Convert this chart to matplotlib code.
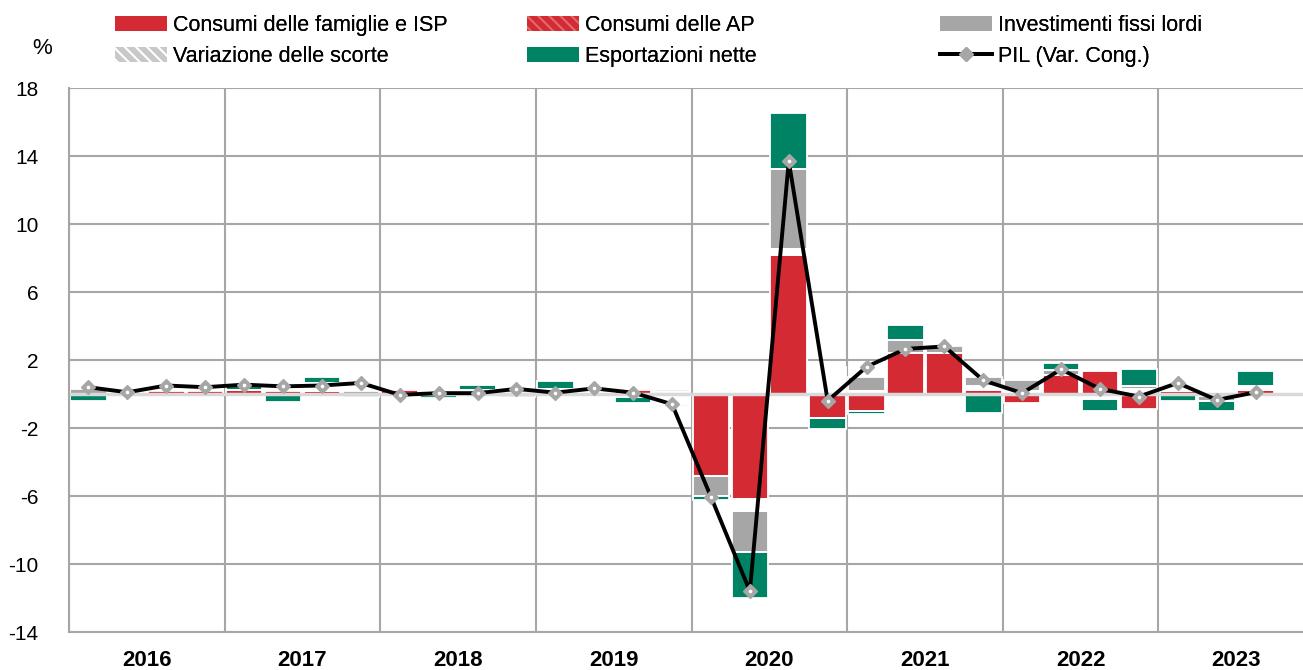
import numpy as np
import matplotlib
matplotlib.use('Agg')
from matplotlib import pyplot as plt
from matplotlib.patches import Patch
from matplotlib.lines import Line2D

plt.rcParams['font.family'] = ['Liberation Sans Narrow', 'Liberation Sans', 'DejaVu Sans']
plt.rcParams['hatch.linewidth'] = 1.5
plt.rcParams['axes.unicode_minus'] = False

nan = np.nan
years = ['2016', '2017', '2018', '2019', '2020', '2021', '2022', '2023']

# contributi alla crescita congiunturale del PIL (punti percentuali), 2016Q1-2023Q4
consumi_famiglie = [0, 0, 0.15, 0.15,   0.25, 0.15, 0.15, 0,   0.25, 0, 0, 0,
                    0, 0, 0.25, 0.1,    -4.8, -6.2, 8.2, -1.4,  -1.0, 2.4, 2.4, 0.25,
                    -0.5, 1.1, 1.35, -0.9,  0.2, 0, 0.25, nan]
consumi_ap = [0] * 31 + [nan]
scorte = [0, 0, 0, 0,   0, 0, 0.5, 0,   0, 0, 0.25, 0,
          0.3, 0.2, 0, -0.6,   0, -0.7, 0.35, 1.6,   0.2, 0, 0, 0.25,
          0.2, 0, -0.3, 0.3,   0.25, -0.1, 0.2, nan]
investimenti = [0.3, 0, 0, 0,   0, 0, 0, 0.2,   0, 0.2, 0, 0.1,
                0, 0.1, -0.2, -0.1,   -1.2, -2.4, 4.7, 0,   0.8, 0.8, 0.45, 0.5,
                0.65, 0.3, 0, 0.2,   0.15, -0.3, 0, nan]
esportazioni = [-0.4, 0, 0, 0,   0.25, -0.45, 0.35, -0.15,   0, -0.25, 0.3, -0.15,
                0.45, 0, -0.3, 0.15,   -0.25, -2.7, 3.3, -0.65,   -0.2, 0.85, 0, -1.1,
                0, 0.4, -0.7, 0.95,   -0.4, -0.6, 0.9, nan]
pil = [0.4, 0.1, 0.5, 0.4,   0.55, 0.45, 0.5, 0.65,   -0.05, 0.05, 0.05, 0.3,
       0.08, 0.33, 0.08, -0.6,   -6.05, -11.6, 13.7, -0.4,   1.6, 2.65, 2.8, 0.8,
       0.05, 1.45, 0.3, -0.15,   0.65, -0.35, 0.1, nan]

RED = '#D42A33'
GREEN = '#008264'
GRAY = '#A6A6A6'

# name, values, bar face, bar hatch, hatch colour, legend face, legend hatch, legend hatch colour
series = [
    ('Consumi delle famiglie e ISP', consumi_famiglie, RED, None, RED, RED, None, RED),
    ('Consumi delle AP', consumi_ap, RED, '\\\\\\', '#B8232B', RED, '\\\\\\', '#E06A70'),
    ('Variazione delle scorte', scorte, 'white', None, 'white', '#C8C8C8', '\\\\\\', 'white'),
    ('Investimenti fissi lordi', investimenti, GRAY, None, GRAY, GRAY, None, GRAY),
    ('Esportazioni nette', esportazioni, GREEN, None, GREEN, GREEN, None, GREEN),
]

fig = plt.figure(figsize=(13.03, 6.70), dpi=100)
ax = fig.add_axes([69 / 1303, 38 / 670, 1245 / 1303, 544 / 670])

x = np.arange(len(pil))
pos_base = np.zeros(len(x))
neg_base = np.zeros(len(x))
for name, vals, face, hatch, hcol, lface, lhatch, lhcol in series:
    v = np.nan_to_num(np.array(vals, dtype=float))
    bottom = np.where(v >= 0, pos_base, neg_base)
    m = v != 0
    if m.any():
        ax.bar(x[m], v[m], bottom=bottom[m], width=0.94, color=face, hatch=hatch,
               edgecolor=hcol, linewidth=0, zorder=2)
        ax.bar(x[m], v[m], bottom=bottom[m], width=0.94, fill=False,
               edgecolor='white', linewidth=1.3, zorder=2.1)
    pos_base += np.where(v > 0, v, 0)
    neg_base += np.where(v < 0, v, 0)

ax.axhline(0, color='#D9D9D9', lw=2.5, zorder=2.5)
ax.plot(x, pil, color='black', lw=2.8, marker='D', ms=7.5, mfc=GRAY, mec=GRAY, zorder=4)
ax.plot(x, pil, ls='none', marker='o', ms=1.6, color='white', zorder=5)

ax.set_xlim(-0.5, 31.5)
ax.set_ylim(-14, 18)
ax.set_yticks(range(-14, 19, 4))
ax.set_xticks(np.arange(1.5, 32, 4))
ax.set_xticklabels(years, fontsize=16, fontweight='bold')
ax.set_xticks(np.arange(-0.5, 32, 4), minor=True)
ax.tick_params(axis='x', which='both', length=0, pad=13)
ax.tick_params(axis='y', length=0, pad=22, labelsize=15)
ax.set_axisbelow(True)
ax.yaxis.grid(True, color=GRAY, lw=1.5)
ax.xaxis.grid(True, which='minor', color=GRAY, lw=1.5)
for s in ['top', 'right']:
    ax.spines[s].set_visible(False)
for s in ['left', 'bottom']:
    ax.spines[s].set_color(GRAY)
    ax.spines[s].set_linewidth(1.5)

fig.text(42 / 1303, 1 - 49 / 670, '%', fontsize=16, ha='center', va='center')

handles = {s[0]: Patch(facecolor=s[5], hatch=s[6], edgecolor=s[7], linewidth=0)
           for s in series}
handles['PIL (Var. Cong.)'] = Line2D([], [], color='black', lw=2.8, marker='D', ms=7,
                                     mfc=GRAY, mec=GRAY)
columns = [
    (115, ['Consumi delle famiglie e ISP', 'Variazione delle scorte']),
    (527, ['Consumi delle AP', 'Esportazioni nette']),
    (940, ['Investimenti fissi lordi', 'PIL (Var. Cong.)']),
]
for xpos, names in columns:
    leg = fig.legend([handles[n] for n in names], names, loc='upper left',
                     bbox_to_anchor=(xpos / 1303, 1 - 15 / 670), frameon=False,
                     fontsize=15.5, handlelength=2.4, handleheight=0.7,
                     handletextpad=0.3, labelspacing=0.45, borderpad=0,
                     borderaxespad=0, numpoints=1)
    fig.add_artist(leg)

fig.savefig('out.png', dpi=100)
